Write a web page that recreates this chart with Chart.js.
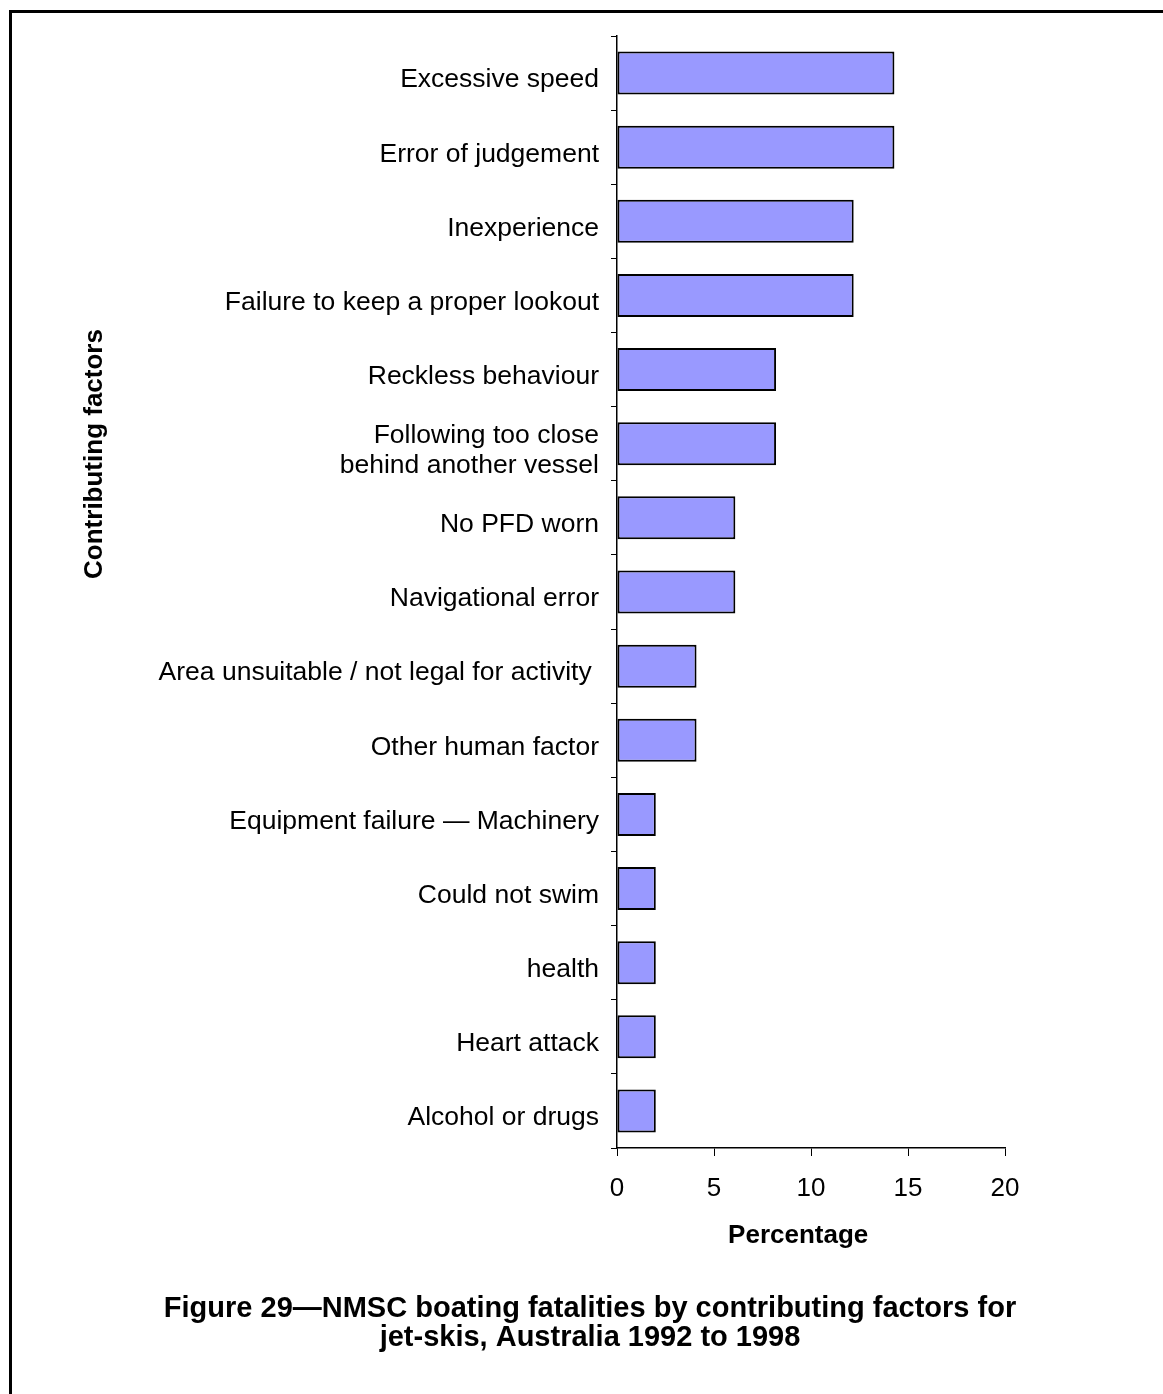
<!DOCTYPE html>
<html>
<head>
<meta charset="utf-8">
<script src="https://cdn.jsdelivr.net/npm/chart.js@4/dist/chart.umd.min.js"></script>
<style>
html,body{margin:0;padding:0;background:#fff;}
#wrap{position:relative;width:1163px;height:1394px;}
</style>
</head>
<body>
<div id="wrap"><canvas id="c" width="1163" height="1394"></canvas></div>
<script>
const categories = [
  "Excessive speed",
  "Error of judgement",
  "Inexperience",
  "Failure to keep a proper lookout",
  "Reckless behaviour",
  ["Following too close", "behind another vessel"],
  "No PFD worn",
  "Navigational error",
  "Area unsuitable / not legal for activity ",
  "Other human factor",
  "Equipment failure \u2014 Machinery",
  "Could not swim",
  "health",
  "Heart attack",
  "Alcohol or drugs"
];
const percentages = [14.3, 14.3, 12.2, 12.2, 8.2, 8.2, 6.1, 6.1, 4.1, 4.1, 2.0, 2.0, 2.0, 2.0, 2.0];
const xTicks = [0, 5, 10, 15, 20];
const xTitle = "Percentage";
const yTitle = "Contributing factors";
const caption = ["Figure 29\u2014NMSC boating fatalities by contributing factors for", "jet-skis, Australia 1992 to 1998"];

const FONT = "'Liberation Sans', Arial, Helvetica, sans-serif";

const decor = {
  id: 'decor',
  beforeDraw(chart) {
    const ctx = chart.ctx;
    ctx.save();
    ctx.fillStyle = '#fff';
    ctx.fillRect(0, 0, chart.width, chart.height);
    ctx.strokeStyle = '#000';
    ctx.lineWidth = 3;
    ctx.beginPath();
    ctx.moveTo(10.5, chart.height + 5);
    ctx.lineTo(10.5, 11.5);
    ctx.lineTo(chart.width + 5, 11.5);
    ctx.stroke();
    ctx.restore();
  },
  afterDraw(chart) {
    const ctx = chart.ctx;
    const area = chart.chartArea;
    ctx.save();
    ctx.fillStyle = '#000';
    ctx.textAlign = 'center';
    ctx.textBaseline = 'middle';
    ctx.font = "bold 26px " + FONT;
    // x axis title
    ctx.fillText(xTitle, area.left + (area.right - area.left) * 0.467, 1236);
    // y axis title
    ctx.save();
    ctx.translate(95, 454);
    ctx.rotate(-Math.PI / 2);
    ctx.fillText(yTitle, 0, 0);
    ctx.restore();
    // caption
    ctx.font = "bold 29px " + FONT;
    ctx.fillText(caption[0], 590, 1309);
    ctx.fillText(caption[1], 590, 1338);
    ctx.restore();
  }
};

new Chart(document.getElementById('c'), {
  type: 'bar',
  data: {
    labels: categories,
    datasets: [{
      data: percentages,
      backgroundColor: '#9999FF',
      borderColor: '#000',
      borderWidth: 2,
      borderSkipped: false,
      barPercentage: 0.58,
      categoryPercentage: 1.0
    }]
  },
  options: {
    indexAxis: 'y',
    responsive: false,
    animation: false,
    devicePixelRatio: 1,
    layout: { padding: { left: 0, right: 158, top: 36, bottom: 0 } },
    plugins: {
      legend: { display: false },
      tooltip: { enabled: false },
      title: { display: false }
    },
    scales: {
      x: {
        type: 'linear',
        min: 0,
        max: 20,
        afterBuildTicks(scale) { scale.ticks = xTicks.map(v => ({ value: v })); },
        afterFit(scale) { scale.height = 1394 - 1148; },
        grid: { display: true, drawOnChartArea: false, drawTicks: true, tickLength: 8, color: '#000', lineWidth: 1 },
        border: { display: true, color: '#000', width: 1.5 },
        ticks: { color: '#000', font: { family: FONT, size: 26 }, padding: 17, maxRotation: 0 }
      },
      y: {
        type: 'category',
        afterFit(scale) { scale.width = 617; },
        grid: { display: true, drawOnChartArea: false, drawTicks: true, tickLength: 6, color: '#000', lineWidth: 1, offset: true },
        border: { display: true, color: '#000', width: 1.5 },
        ticks: { color: '#000', font: { family: FONT, size: 26.5, lineHeight: 1.14 }, padding: 12, labelOffset: 7, autoSkip: false }
      }
    }
  },
  plugins: [decor]
});
</script>
</body>
</html>
